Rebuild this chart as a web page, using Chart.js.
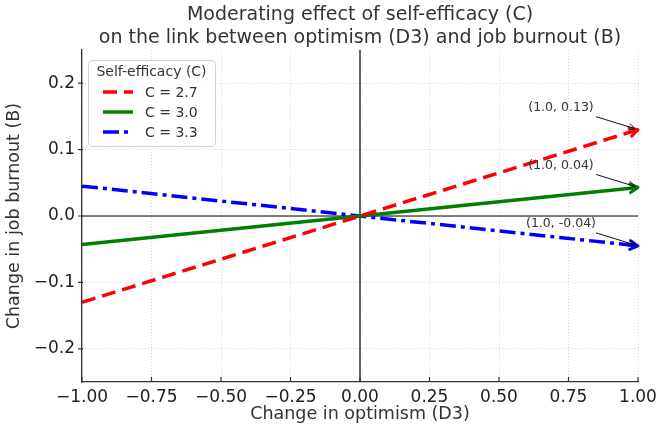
<!DOCTYPE html>
<html>
<head>
<meta charset="utf-8">
<script src="https://cdn.jsdelivr.net/npm/chart.js@4/dist/chart.umd.min.js"></script>
<style>
  html, body { margin: 0; padding: 0; background: #fff; }
  canvas { display: block; }
</style>
</head>
<body>
<canvas id="myChart" width="662" height="432"></canvas>
<script>
// data
const xValues = [-1, 0, 1];
const lowC = [-0.13, 0, 0.13];    // C = 2.7
const meanC = [-0.043, 0, 0.043]; // C = 3.0
const highC = [0.045, 0, -0.045]; // C = 3.3
const seriesLabels = ["C = 2.7", "C = 3.0", "C = 3.3"];
const endLabels = ["(1.0, 0.13)", "(1.0, 0.04)", "(1.0, -0.04)"];
const xTicks = [-1, -0.75, -0.5, -0.25, 0, 0.25, 0.5, 0.75, 1];
const yTicks = [-0.2, -0.1, 0, 0.1, 0.2];
const titleLines = ["Moderating effect of self-efficacy (C)", "on the link between optimism (D3) and job burnout (B)"];

const FONT = "'DejaVu Sans', sans-serif";
const colors = {
  red: "#ff0000",
  green: "#008000",
  blue: "#0000ff"
};

function toPoints(ys) {
  return xValues.map((x, i) => ({x: x, y: ys[i]}));
}
function fmt(v, digits) {
  const s = Math.abs(v).toFixed(digits);
  return v < -1e-9 ? "\u2212" + s : s;
}

const datasets = [
  {label: seriesLabels[0], data: toPoints(lowC), borderColor: colors.red, borderWidth: 3.5, borderDash: [14, 7]},
  {label: seriesLabels[1], data: toPoints(meanC), borderColor: colors.green, borderWidth: 3.5, borderDash: []},
  {label: seriesLabels[2], data: toPoints(highC), borderColor: colors.blue, borderWidth: 3.5, borderDash: [16, 5, 4, 5]}
].map(d => Object.assign(d, {pointRadius: 0, fill: false, tension: 0}));

function arrowHead(ctx, x, y, angle, size, color, width) {
  ctx.save();
  ctx.setLineDash([]);
  ctx.strokeStyle = color;
  ctx.lineWidth = width;
  ctx.lineCap = "round";
  ctx.lineJoin = "round";
  ctx.beginPath();
  ctx.moveTo(x - size * Math.cos(angle - 0.5), y - size * Math.sin(angle - 0.5));
  ctx.lineTo(x, y);
  ctx.lineTo(x - size * Math.cos(angle + 0.5), y - size * Math.sin(angle + 0.5));
  ctx.stroke();
  ctx.restore();
}

const extras = {
  id: "extras",
  beforeDatasetsDraw(chart) {
    const {ctx, chartArea: a, scales: {x, y}} = chart;
    ctx.save();
    ctx.strokeStyle = "#000";
    ctx.lineWidth = 1.2;
    const y0 = y.getPixelForValue(0);
    const x0 = x.getPixelForValue(0);
    ctx.beginPath();
    ctx.moveTo(a.left, y0); ctx.lineTo(a.right, y0);
    ctx.moveTo(x0, a.top); ctx.lineTo(x0, a.bottom);
    ctx.stroke();
    ctx.restore();
  },
  afterDatasetsDraw(chart) {
    const {ctx, scales: {x, y}} = chart;
    chart.data.datasets.forEach((ds, i) => {
      const n = ds.data.length;
      const p1 = ds.data[n - 2], p2 = ds.data[n - 1];
      const px1 = x.getPixelForValue(p1.x), py1 = y.getPixelForValue(p1.y);
      const px2 = x.getPixelForValue(p2.x), py2 = y.getPixelForValue(p2.y);
      const ang = Math.atan2(py2 - py1, px2 - px1);
      arrowHead(ctx, px2, py2, ang, 9, ds.borderColor, 3);

      // annotation text + thin arrow
      const tx = px2 - 77, ty = py2 - 22;
      ctx.save();
      ctx.font = "12.5px " + FONT;
      ctx.fillStyle = "#333";
      ctx.textAlign = "center";
      ctx.textBaseline = "middle";
      ctx.fillText(endLabels[i], tx, ty);
      const sx = px2 - 42, sy = py2 - 13;
      const ex = px2 - 3, ey = py2 - 1;
      ctx.strokeStyle = "#111";
      ctx.lineWidth = 1;
      ctx.beginPath();
      ctx.moveTo(sx, sy); ctx.lineTo(ex, ey);
      ctx.stroke();
      ctx.restore();
      arrowHead(ctx, ex, ey, Math.atan2(ey - sy, ex - sx), 7, "#111", 1);
    });
  },
  afterDraw(chart) {
    const {ctx, chartArea: a, scales: {x, y}} = chart;
    // title, centred over the plot area
    ctx.save();
    ctx.fillStyle = "#333";
    ctx.font = "19px " + FONT;
    ctx.textAlign = "center";
    ctx.textBaseline = "middle";
    const cx = (a.left + a.right) / 2;
    titleLines.forEach((t, i) => ctx.fillText(t, cx, 15 + i * 23));
    ctx.restore();

    // tick marks: x inside, y outside
    ctx.save();
    ctx.strokeStyle = "#333";
    ctx.lineWidth = 1.2;
    ctx.beginPath();
    xTicks.forEach(v => {
      const px = x.getPixelForValue(v);
      ctx.moveTo(px, a.bottom); ctx.lineTo(px, a.bottom - 5);
    });
    yTicks.forEach(v => {
      const py = y.getPixelForValue(v);
      ctx.moveTo(a.left - 4, py); ctx.lineTo(a.left + 1, py);
    });
    ctx.stroke();
    ctx.restore();

    // legend box
    const lx = a.left + 6, ly = a.top + 10, lw = 127, lh = 86;
    ctx.save();
    ctx.fillStyle = "rgba(255,255,255,0.85)";
    ctx.strokeStyle = "#d0d0d0";
    ctx.lineWidth = 1;
    ctx.beginPath();
    ctx.roundRect(lx + 0.5, ly + 0.5, lw, lh, 4);
    ctx.fill();
    ctx.stroke();
    ctx.fillStyle = "#333";
    ctx.font = "14px " + FONT;
    ctx.textBaseline = "middle";
    ctx.textAlign = "center";
    ctx.fillText("Self-efficacy (C)", lx + lw / 2, ly + 12);
    ctx.textAlign = "left";
    chart.data.datasets.forEach((ds, i) => {
      const ry = ly + 32 + i * 20;
      ctx.save();
      ctx.strokeStyle = ds.borderColor;
      ctx.lineWidth = ds.borderWidth;
      ctx.setLineDash(ds.borderDash);
      ctx.beginPath();
      ctx.moveTo(lx + 15, ry); ctx.lineTo(lx + 45, ry);
      ctx.stroke();
      ctx.restore();
      ctx.fillText(ds.label, lx + 57, ry + 1);
    });
    ctx.restore();
  }
};

new Chart(document.getElementById("myChart"), {
  type: "line",
  data: {datasets: datasets},
  plugins: [extras],
  options: {
    responsive: false,
    animation: false,
    layout: {padding: {left: 0, right: 24, top: 50, bottom: 0}},
    plugins: {
      legend: {display: false},
      tooltip: {enabled: false},
      title: {display: false}
    },
    scales: {
      x: {
        type: "linear",
        min: -1,
        max: 1,
        afterBuildTicks: s => { s.ticks = xTicks.map(v => ({value: v})); },
        afterFit: s => { s.height = 50; },
        ticks: {
          color: "#222",
          font: {family: FONT, size: 17},
          padding: 5,
          maxRotation: 0,
          autoSkip: false,
          callback: v => fmt(v, 2)
        },
        grid: {color: "#d9d9d9", lineWidth: 1, drawTicks: false},
        border: {display: true, color: "#333", width: 1.3, dash: [1, 2]},
        title: {
          display: true,
          text: "Change in optimism (D3)",
          color: "#333",
          font: {family: FONT, size: 17.5},
          padding: {top: 0, bottom: 7}
        }
      },
      y: {
        type: "linear",
        min: -0.25,
        max: 0.25,
        afterBuildTicks: s => { s.ticks = yTicks.map(v => ({value: v})); },
        afterFit: s => { s.width = 82; },
        ticks: {
          color: "#222",
          font: {family: FONT, size: 17},
          padding: 7,
          autoSkip: false,
          callback: v => fmt(v, 1)
        },
        grid: {color: "#d9d9d9", lineWidth: 1, drawTicks: false},
        border: {display: true, color: "#333", width: 1.3, dash: [1, 2]},
        title: {
          display: true,
          text: "Change in job burnout (B)",
          color: "#333",
          font: {family: FONT, size: 17.5},
          padding: {top: 4, bottom: 0}
        }
      }
    }
  }
});
</script>
</body>
</html>
